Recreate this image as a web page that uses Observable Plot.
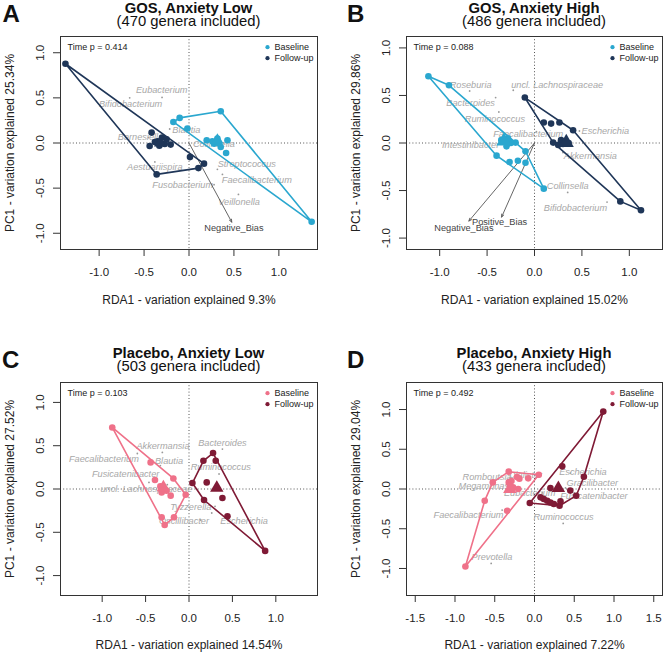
<!DOCTYPE html>
<html><head><meta charset="utf-8">
<script src="https://cdn.jsdelivr.net/npm/d3@7"></script>
<script src="https://cdn.jsdelivr.net/npm/@observablehq/plot@0.6"></script>
<style>
body{margin:0;background:#fff;}
#fig{position:relative;width:669px;height:657px;font-family:"Liberation Sans",Arial,sans-serif;color:#111;overflow:hidden;background:#fff}
.ttl{position:absolute;text-align:center;font-size:14.8px;line-height:13px;white-space:nowrap;width:260px}
.let{position:absolute;font-size:24px;line-height:24px;font-weight:bold}
.pnl{position:absolute}
</style></head><body><div id="fig"></div>
<script>
// ---------- text ----------
const letters = ["A","B","C","D"];
const titles = ["GOS, Anxiety Low","GOS, Anxiety High","Placebo, Anxiety Low","Placebo, Anxiety High"];
const subtitles = ["(470 genera included)","(486 genera included)","(503 genera included)","(433 genera included)"];
const xLabels = ["RDA1 - variation explained 9.3%","RDA1 - variation explained 15.02%","RDA1 - variation explained 14.54%","RDA1 - variation explained 7.22%"];
const yLabels = ["PC1 - variation explained 25.34%","PC1 - variation explained 29.86%","PC1 - variation explained 27.52%","PC1 - variation explained 29.04%"];
const pValues = ["0.414","0.088","0.103","0.492"];
const groups = ["Baseline","Follow-up"];
const ticks1 = [-1,-0.5,0,0.5,1];
const ticks15 = [-1.5,-1,-0.5,0,0.5,1,1.5];

// ---------- Panel A: GOS, Anxiety Low ----------
const gosLowBaseline = [[-0.174,0.233],[-0.104,0.278],[0.353,0.352],[-0.018,0.16],[1.365,-0.873],[0.197,0.03],[0.316,0.049],[0.353,-0.044],[0.428,0.03],[0.413,-0.111],[0.279,-0.007],[0.33,0.0],[0.26,0.02]];
const gosLowFollowup = [[-1.375,0.878],[-0.416,0.115],[-0.438,-0.033],[-0.204,-0.018],[-0.35,0.02],[-0.30,0.06],[-0.27,-0.01],[-0.25,0.04],[-0.33,-0.03],[-0.38,0.01],[0.011,-0.156],[0.167,-0.229],[0.105,-0.278],[-0.36,-0.348]];
const gosLowCentroids = [[0.316,0.03],[-0.32,0.0]];
const gosLowSpecies = ["Eubacterium","Bifidobacterium","Blautia","Barnesiella","Collinsella","Aestuariispira","Streptococcus","Faecalibacterium","Fusobacterium","Veillonella"];
const gosLowSpeciesPt = [[-0.30,0.505],[-0.66,0.50],[-0.215,0.155],[-0.45,0.06],[0.20,0.02],[-0.38,-0.21],[0.316,-0.292],[0.372,-0.348],[0.279,-0.462],[0.55,-0.57]];
const gosLowSpeciesLab = [[-0.304,0.585],[-0.65,0.43],[-0.03,0.141],[-0.54,0.067],[0.277,-0.015],[-0.38,-0.267],[0.643,-0.229],[0.755,-0.407],[-0.07,-0.462],[0.557,-0.656]];
const gosLowArrows = ["Negative_Bias"];
const gosLowArrowTip = [[0.476,-0.877]];
const gosLowArrowLab = [[0.50,-0.94]];

// ---------- Panel B: GOS, Anxiety High ----------
const gosHighBaseline = [[-1.119,0.702],[-0.902,0.607],[-0.2,0.004],[-0.095,-0.087],[-0.4,-0.133],[-0.263,-0.2],[-0.175,-0.186],[-0.095,-0.207],[-0.295,-0.035],[0.098,-0.48],[-0.25,0.0],[-0.35,0.03],[-0.28,0.05]];
const gosHighFollowup = [[-0.102,0.478],[0.098,0.215],[0.175,0.204],[0.263,0.215],[0.407,0.134],[0.197,0.004],[0.28,0.03],[0.30,-0.01],[0.36,0.0],[0.25,-0.02],[0.905,-0.614],[1.123,-0.708]];
const gosHighCentroids = [[-0.323,0.02],[0.335,0.005]];
const gosHighSpecies = ["Roseburia","uncl. Lachnospiraceae","Bacteroides","Ruminococcus","Faecalibacterium","Escherichia","Intestinibacter","Akkermansia","Collinsella","Bifidobacterium"];
const gosHighSpeciesPt = [[-0.684,0.547],[-0.224,0.555],[-0.41,0.478],[-0.376,0.326],[0.02,0.12],[0.474,0.126],[-0.3,-0.02],[0.3,-0.1],[0.35,-0.52],[0.765,-0.621]];
const gosHighSpeciesLab = [[-0.674,0.607],[0.239,0.607],[-0.674,0.425],[-0.418,0.257],[-0.066,0.099],[0.747,0.126],[-0.674,-0.024],[0.589,-0.137],[0.35,-0.456],[0.432,-0.684]];
const gosHighArrows = ["Negative_Bias","Positive_Bias"];
const gosHighArrowTip = [[-0.692,-0.821],[-0.347,-0.779]];
const gosHighArrowLab = [[-0.744,-0.895],[-0.368,-0.832]];

// ---------- Panel C: Placebo, Anxiety Low ----------
const plaLowBaseline = [[-0.884,0.711],[-0.442,0.307],[-0.18,0.122],[-0.392,0.104],[-0.038,-0.066],[-0.211,-0.077],[-0.315,-0.039],[-0.26,-0.02],[-0.33,0.03],[-0.173,-0.327],[-0.315,-0.327],[-0.28,-0.415]];
const plaLowFollowup = [[0.277,0.415],[0.166,0.326],[0.308,0.326],[0.039,0.069],[0.204,0.076],[0.385,-0.104],[0.173,-0.127],[0.443,-0.316],[0.877,-0.715]];
const plaLowCentroids = [[-0.295,0.018],[0.32,0.012]];
const plaLowSpecies = ["Akkermansia","Faecalibacterium","Blautia","Bacteroides","Ruminococcus","Fusicatenibacter","uncl. Lachnospiraceae","Tyzzerella","Oscillibacter","Escherichia"];
const plaLowSpeciesPt = [[-0.307,0.422],[-0.595,0.41],[-0.33,0.27],[0.385,0.461],[0.346,0.173],[-0.461,0.076],[-0.25,0.05],[0.262,-0.277],[0.135,-0.358],[0.30,-0.20]];
const plaLowSpeciesLab = [[-0.30,0.50],[-0.98,0.346],[-0.23,0.326],[0.385,0.526],[0.366,0.249],[-0.73,0.173],[-0.49,0.0],[0.02,-0.212],[-0.058,-0.366],[0.634,-0.366]];

// ---------- Panel D: Placebo, Anxiety High ----------
const plaHighBaseline = [[-0.869,-0.975],[-0.626,-0.147],[-0.525,0.083],[-0.324,0.218],[-0.344,-0.273],[-0.079,0.134],[0.054,0.18],[-0.205,0.0],[-0.324,0.083],[-0.29,0.10],[-0.22,0.15],[-0.19,0.13],[-0.27,0.02],[-0.31,0.05]];
const plaHighFollowup = [[0.865,0.974],[0.349,0.285],[0.621,0.155],[0.525,-0.084],[-0.059,-0.176],[0.315,-0.21],[0.2,0.013],[0.117,-0.126],[0.16,-0.147],[0.2,-0.169],[0.243,-0.189],[0.327,-0.156],[0.076,-0.105],[0.45,-0.02]];
const plaHighCentroids = [[-0.31,0.0],[0.30,0.01]];
const plaHighSpecies = ["Romboutsia","Megamonas","Dialister","Escherichia","Gracilibacter","Eubacterium","Fusicatenibacter","Faecalibacterium","Ruminococcus","Prevotella"];
const plaHighSpeciesPt = [[-0.33,0.12],[-0.32,0.05],[-0.2,0.16],[0.45,0.2],[0.39,0.013],[0.1,-0.05],[0.5,-0.05],[-0.407,-0.265],[0.361,-0.433],[-0.545,-0.937]];
const plaHighSpeciesLab = [[-0.596,0.155],[-0.638,0.033],[-0.113,0.18],[0.609,0.218],[0.727,0.071],[-0.06,-0.055],[0.747,-0.093],[-0.83,-0.328],[0.365,-0.357],[-0.535,-0.861]];

const gosColors = ["#2AA7CF","#1F3658"];
const plaColors = ["#EF7189","#7F1A35"];

const FONT = '"Liberation Sans", Arial, sans-serif';
const fmt = d => d.toFixed(1);

const panels = [
  {i:0, left:0, top:30, width:335, height:285, ml:60, mr:18, mt:6, mb:66, xdom:[-1.43,1.43], ydom:[-1.18,1.18], xt:ticks1, yt:ticks1,
   base:gosLowBaseline, fol:gosLowFollowup, cen:gosLowCentroids, sp:gosLowSpecies, spp:gosLowSpeciesPt, spl:gosLowSpeciesLab,
   an:gosLowArrows, at:gosLowArrowTip, al:gosLowArrowLab, col:gosColors, triR:4.6, titleTop:0, letterTop:1.5, letterLeft:2.5, xlabDy:51},
  {i:1, left:335, top:30, width:334, height:285, ml:71, mr:7, mt:6, mb:66, xdom:[-1.35,1.35], ydom:[-1.12,1.12], xt:ticks1, yt:ticks1,
   base:gosHighBaseline, fol:gosHighFollowup, cen:gosHighCentroids, sp:gosHighSpecies, spp:gosHighSpeciesPt, spl:gosHighSpeciesLab,
   an:gosHighArrows, at:gosHighArrowTip, al:gosHighArrowLab, col:gosColors, triR:5.6, titleTop:0, letterTop:1.5, letterLeft:347, xlabDy:51},
  {i:2, left:0, top:376, width:335, height:281, ml:60, mr:18, mt:6, mb:62, xdom:[-1.48,1.48], ydom:[-1.23,1.23], xt:ticks1, yt:ticks1,
   base:plaLowBaseline, fol:plaLowFollowup, cen:plaLowCentroids, sp:plaLowSpecies, spp:plaLowSpeciesPt, spl:plaLowSpeciesLab,
   an:[], at:[], al:[], col:plaColors, triR:5, titleTop:345.7, letterTop:347.5, letterLeft:2, xlabDy:50},
  {i:3, left:335, top:376, width:334, height:281, ml:71, mr:7, mt:6, mb:62, xdom:[-1.61,1.61], ydom:[-1.34,1.34], xt:ticks15, yt:ticks1,
   base:plaHighBaseline, fol:plaHighFollowup, cen:plaHighCentroids, sp:plaHighSpecies, spp:plaHighSpeciesPt, spl:plaHighSpeciesLab,
   an:[], at:[], al:[], col:plaColors, triR:5, titleTop:345.7, letterTop:347.5, letterLeft:347, xlabDy:50}
];

const fig = document.getElementById("fig");

for (const c of panels) {
  const species = c.sp.map((n, k) => ({name: n, px: c.spp[k][0], py: c.spp[k][1], lx: c.spl[k][0], ly: c.spl[k][1]}));
  const arrows = c.an.map((n, k) => ({name: n, x: c.at[k][0], y: c.at[k][1], lx: c.al[k][0], ly: c.al[k][1]}));
  const cents = c.cen.map((p, k) => ({x: p[0], y: p[1], g: groups[k]}));
  const [cb, cf] = c.col;
  const X = d => d[0], Y = d => d[1];
  const plot = Plot.plot({
    width: c.width, height: c.height,
    marginLeft: c.ml, marginRight: c.mr, marginTop: c.mt, marginBottom: c.mb,
    x: {domain: c.xdom}, y: {domain: c.ydom},
    style: {fontFamily: FONT, background: "transparent", overflow: "visible", color: "#222"},
    marks: [
      Plot.ruleX([0], {stroke: "#555", strokeDasharray: "1,2.2", strokeWidth: 1}),
      Plot.ruleY([0], {stroke: "#555", strokeDasharray: "1,2.2", strokeWidth: 1}),
      Plot.dot(species, {x: "px", y: "py", r: 0.9, fill: "#999", stroke: null}),
      Plot.text(species, {x: "lx", y: "ly", text: "name", fill: "#a8a8a8", fontStyle: "italic", fontSize: 9.2}),
      Plot.arrow(arrows, {x1: () => 0, y1: () => 0, x2: "x", y2: "y", stroke: "#555", strokeWidth: 0.9, headLength: 5, headAngle: 45}),
      Plot.text(arrows, {x: "lx", y: "ly", text: "name", fill: "#444", fontSize: 9.2}),
      Plot.hull(c.base, {x: X, y: Y, stroke: cb, strokeWidth: 1.6}),
      Plot.hull(c.fol, {x: X, y: Y, stroke: cf, strokeWidth: 1.6}),
      Plot.dot(c.base, {x: X, y: Y, r: 3.3, fill: cb, stroke: null}),
      Plot.dot(c.fol, {x: X, y: Y, r: 3.3, fill: cf, stroke: null}),
      Plot.dot(cents, {x: "x", y: "y", symbol: "triangle", r: c.triR, fill: d => d.g === groups[0] ? cb : cf, stroke: null}),
      Plot.frame({stroke: "#333", strokeWidth: 1}),
      Plot.axisX({ticks: c.xt, tickFormat: fmt, tickSize: 7, tickPadding: 11, fontSize: 11.5, label: null, stroke: "#333"}),
      Plot.axisY({ticks: c.yt, tickFormat: () => "", tickSize: 7, label: null, stroke: "#333"}),
      Plot.text(c.yt, {y: d => d, text: fmt, frameAnchor: "left", textAnchor: "middle", lineAnchor: "middle", dx: -20, rotate: -90, fontSize: 11.5, fill: "#222"}),
      Plot.text([xLabels[c.i]], {text: d => d, frameAnchor: "bottom", textAnchor: "middle", lineAnchor: "middle", dy: c.xlabDy, fontSize: 12, fill: "#222"}),
      Plot.text([yLabels[c.i]], {text: d => d, frameAnchor: "left", textAnchor: "middle", lineAnchor: "middle", dx: -50, rotate: -90, fontSize: 12, fill: "#222"}),
      Plot.text([`Time p = ${pValues[c.i]}`], {text: d => d, frameAnchor: "top-left", dx: 7, dy: 10.7, textAnchor: "start", lineAnchor: "middle", fontSize: 9, fill: "#222"}),
      Plot.dot([groups[0]], {frameAnchor: "top-right", dx: -50, dy: 10.7, r: 2.1, fill: cb, stroke: null}),
      Plot.dot([groups[1]], {frameAnchor: "top-right", dx: -50, dy: 21.7, r: 2.1, fill: cf, stroke: null}),
      Plot.text([groups[0]], {text: d => d, frameAnchor: "top-right", dx: -43, dy: 10.7, textAnchor: "start", lineAnchor: "middle", fontSize: 9, fill: "#222"}),
      Plot.text([groups[1]], {text: d => d, frameAnchor: "top-right", dx: -43, dy: 21.7, textAnchor: "start", lineAnchor: "middle", fontSize: 9, fill: "#222"})
    ]
  });
  const wrap = document.createElement("div");
  wrap.className = "pnl";
  wrap.style.left = c.left + "px";
  wrap.style.top = c.top + "px";
  wrap.appendChild(plot);
  fig.appendChild(wrap);

  const frameCenter = c.left + c.ml + (c.width - c.ml - c.mr) / 2;
  const t1 = document.createElement("div");
  t1.className = "ttl";
  t1.style.left = (frameCenter - 130) + "px";
  t1.style.top = (c.titleTop + 1.5) + "px";
  t1.style.fontWeight = "bold";
  t1.textContent = titles[c.i];
  fig.appendChild(t1);
  const t2 = document.createElement("div");
  t2.className = "ttl";
  t2.style.left = (frameCenter - 130) + "px";
  t2.style.top = (c.titleTop + 14.5) + "px";
  t2.textContent = subtitles[c.i];
  fig.appendChild(t2);

  const l = document.createElement("div");
  l.className = "let";
  l.style.left = c.letterLeft + "px";
  l.style.top = c.letterTop + "px";
  l.textContent = letters[c.i];
  fig.appendChild(l);
}
</script></body></html>
